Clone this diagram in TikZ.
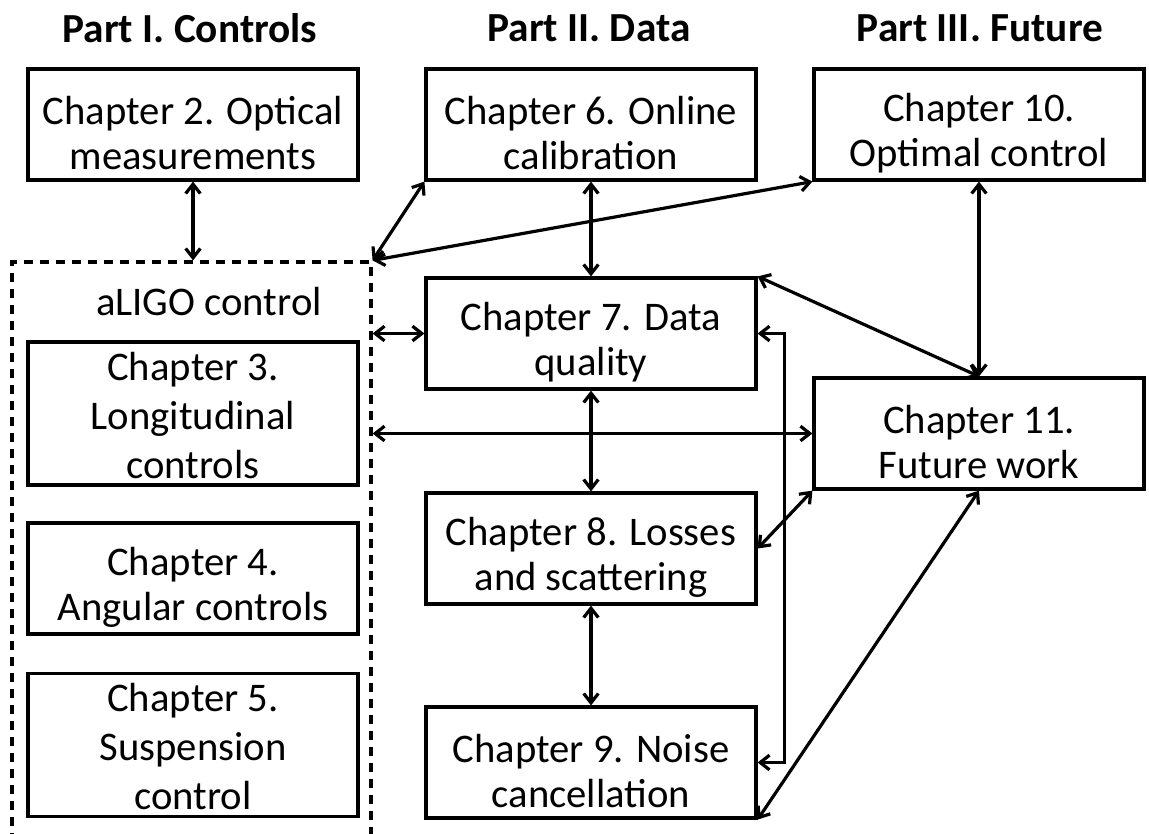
\documentclass[tikz,border=0pt]{standalone}
\usepackage{fontspec}
\setmainfont{Carlito}
\usetikzlibrary{positioning,arrows.meta,calc}
\newcommand{\chapgap}{\rule{0pt}{34pt}}
\newcommand{\tallgap}{\rule{0pt}{24pt}}
\tikzset{
chapter/.style={
  draw,
  rectangle,
  line width=2.4pt,
  align=center,
  minimum width=247.5pt,
  minimum height=83.25pt,
  inner sep=2pt,
  font=\fontsize{30.5}{33.75}\selectfont
  },
tallchapter/.style={chapter, minimum height=107.25pt, font=\fontsize{30.5}{36.75}\selectfont},
part/.style={font=\fontsize{31}{36}\selectfont\bfseries},
group/.style={
  draw,
  dash pattern=on 7pt off 5pt,
  line width=2.4pt,
  minimum width=269.25pt,
  minimum height=437.25pt
  },
link/.style={draw, line width=2.4pt, <->, >={Straight Barb[length=7pt,width=11pt]}}
}

\begin{document}
\begin{tikzpicture}[x=0.75pt,y=0.75pt,yscale=-1,xscale=1]
\useasboundingbox (0,0) rectangle (1149,833);

% part headings
\draw (190,28) node [part] (p1) {Part I. Controls};
\draw (589,28) node [part] (p2) {Part II. Data};
\draw (980,28) node [part] (p3) {Part III. Future};

% aLIGO control group
\draw (191.5,553.5) node [group] (aligo) {};
\draw (209,302) node [font=\fontsize{30.5}{33.75}\selectfont] (aligolabel) {aLIGO control};

\draw (193,124.5) node [chapter] (ch2) {\chapgap Chapter 2. Optical\\measurements};
\draw (193,413.5) node [tallchapter] (ch3) {\tallgap Chapter 3.\\Longitudinal\\controls};
\draw (193,578.5) node [chapter] (ch4) {\chapgap Chapter 4.\\Angular controls};
\draw (193,745) node [tallchapter] (ch5) {\tallgap Chapter 5.\\Suspension\\control};

\draw (591,124.5) node [chapter] (ch6) {\chapgap Chapter 6. Online\\calibration};
\draw (591,333.5) node [chapter] (ch7) {\chapgap Chapter 7. Data\\quality};
\draw (591,548.5) node [chapter] (ch8) {\chapgap Chapter 8. Losses\\and scattering};
\draw (591,762.5) node [chapter] (ch9) {\chapgap Chapter 9. Noise\\cancellation};

\draw (979,124.5) node [chapter] (ch10) {\chapgap Chapter 10.\\Optimal control};
\draw (979,433.5) node [chapter] (ch11) {\chapgap Chapter 11.\\Future work};

% links
\draw [link] (ch2.south) -- (ch2.south |- aligo.north);
\draw [link] (ch6.south west) -- (aligo.north east);
\draw [link] (ch10.south west) -- (aligo.north east);
\draw [link] (ch6) -- (ch7);
\draw [link] (ch10) -- (ch11);
\draw [link] (ch7.north east) -- (ch11.north);
\draw [link] (aligo.east |- ch7.west) -- (ch7.west);
\draw [link] (ch7) -- (ch8);
\draw [link] (aligo.east |- ch11.west) -- (ch11.west);
\draw [link] (ch8) -- (ch9);
\draw [link] (ch11.south west) -- (ch8.east);
\draw [link] (ch11.south) -- (ch9.south east);
\draw [link] (ch7.east) -- ++(27,0) |- (ch9.east);

\end{tikzpicture}
\end{document}
